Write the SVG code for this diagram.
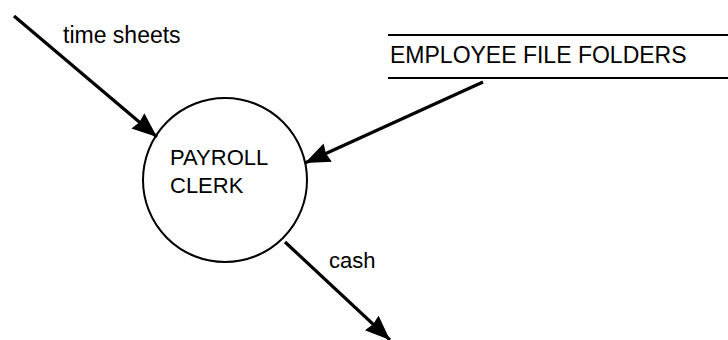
<svg xmlns="http://www.w3.org/2000/svg" width="728" height="340" viewBox="0 0 728 340">
<defs>
<style>
.lbl{font-family:"Liberation Sans",Arial,sans-serif;font-size:23px;fill:#000}
.flow{stroke:#000;stroke-width:3.2;fill:none;marker-end:url(#ah)}
.edge{stroke:#000;stroke-width:2;fill:none}
</style>
<marker id="ah" markerUnits="userSpaceOnUse" markerWidth="28" markerHeight="22" refX="25" refY="10" orient="auto">
<path d="M0,0 L25,10 L0,20 L2,10 Z" fill="#000"/>
</marker>
</defs>
<rect width="728" height="340" fill="#fff"/>
<g id="connectors">
<line class="flow" x1="14" y1="16" x2="157" y2="137"/>
<line class="flow" x1="483" y1="82" x2="305" y2="163"/>
<line class="flow" x1="285" y1="242" x2="390" y2="340"/>
<text class="lbl" x="63" y="43">time sheets</text>
<text class="lbl" x="329" y="268" style="font-size:22px">cash</text>
</g>
<g id="payroll-clerk">
<circle class="edge" cx="225" cy="180" r="82"/>
<text class="lbl" x="170" y="165" style="font-size:22px">PAYROLL</text>
<text class="lbl" x="170" y="193" style="font-size:22px">CLERK</text>
</g>
<g id="employee-file-folders">
<line class="edge" x1="388" y1="35" x2="728" y2="35"/>
<line class="edge" x1="388" y1="78" x2="728" y2="78"/>
<text class="lbl" x="390" y="63">EMPLOYEE FILE FOLDERS</text>
</g>
</svg>
